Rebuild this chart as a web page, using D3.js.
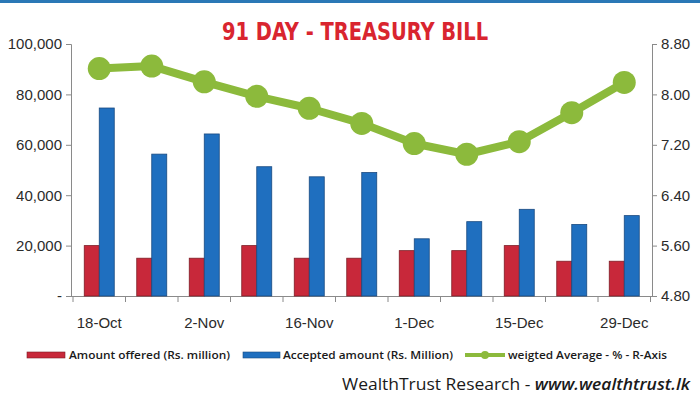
<!DOCTYPE html>
<html>
<head>
<meta charset="utf-8">
<script src="https://cdn.jsdelivr.net/npm/d3@7"></script>
<style>
    body { margin: 0; background: #fff; }
    svg { display: block; }
</style>
</head>
<body>
<div id="chart"></div>
<script>
const dates = ["18-Oct", "25-Oct", "2-Nov", "9-Nov", "16-Nov", "23-Nov", "1-Dec", "8-Dec", "15-Dec", "22-Dec", "29-Dec"];
const amountOffered = [20000, 15000, 15000, 20000, 15000, 15000, 18000, 18000, 20000, 13800, 13800];
const acceptedAmount = [74600, 56300, 64300, 51300, 47300, 49000, 22700, 29500, 34400, 28400, 31900];
const weightedAverage = [8.41, 8.45, 8.20, 7.97, 7.78, 7.54, 7.22, 7.05, 7.25, 7.71, 8.19];
const leftTicks = [0, 20000, 40000, 60000, 80000, 100000];
const rightTicks = [4.80, 5.60, 6.40, 7.20, 8.00, 8.80];
const shownLabels = ["18-Oct", "2-Nov", "16-Nov", "1-Dec", "15-Dec", "29-Dec"];

const width = 700, height = 400;
const plot = {left: 71, right: 652, top: 44, bottom: 296};
const red = "#c8283a", blue = "#1f6fbf", green = "#8cba3c";

const svg = d3.select("#chart")
    .append("svg")
    .attr("width", width)
    .attr("height", height)
    .style("font-family", "'DejaVu Sans', sans-serif");

svg.append("rect")
    .attr("width", width)
    .attr("height", 3)
    .attr("fill", "#2a78b6");

svg.append("text")
    .attr("x", 355)
    .attr("y", 40)
    .attr("text-anchor", "middle")
    .attr("fill", "#d9252f")
    .style("font-family", "'Liberation Sans Narrow', 'DejaVu Sans Condensed', sans-serif")
    .style("font-weight", "bold")
    .style("font-size", "24px")
    .attr("textLength", 266)
    .attr("lengthAdjust", "spacingAndGlyphs")
    .text("91 DAY - TREASURY BILL");

const x = d3.scaleBand()
    .domain(dates)
    .range([72.5, 650]);

const yLeft = d3.scaleLinear()
    .domain([0, 100000])
    .range([plot.bottom, plot.top]);

const yRight = d3.scaleLinear()
    .domain([4.8, 8.8])
    .range([plot.bottom, plot.top]);

const barWidth = 15;
const center = d => x(d) + x.bandwidth() / 2 + 0.5;

// axes
const leftAxis = svg.append("g")
    .attr("transform", `translate(${plot.left}, 0)`)
    .call(d3.axisLeft(yLeft)
        .tickValues(leftTicks)
        .tickSize(5)
        .tickPadding(4)
        .tickFormat(d => d === 0 ? "-" : d3.format(",")(d)));

const rightAxis = svg.append("g")
    .attr("transform", `translate(${plot.right}, 0)`)
    .call(d3.axisRight(yRight)
        .tickValues(rightTicks)
        .tickSize(5)
        .tickPadding(4)
        .tickFormat(d3.format(".2f")));

const boundary = d3.scaleLinear()
    .domain([0, dates.length])
    .range(x.range());

const bottomAxis = svg.append("g")
    .attr("transform", `translate(0, ${plot.bottom})`)
    .call(d3.axisBottom(boundary)
        .tickValues(d3.range(dates.length + 1))
        .tickSize(6)
        .tickSizeOuter(0)
        .tickFormat(""));

bottomAxis.select(".domain")
    .attr("d", `M${plot.left},0.5H${plot.right}`);

const labelAxis = svg.append("g")
    .attr("transform", `translate(0.5, ${plot.bottom})`)
    .call(d3.axisBottom(x)
        .tickSize(0)
        .tickPadding(21)
        .tickFormat(d => shownLabels.includes(d) ? d : ""));
labelAxis.select(".domain").remove();

[leftAxis, rightAxis, bottomAxis].forEach(g => {
    g.selectAll(".domain, line").attr("stroke", "#8a8a8a");
});
[leftAxis, rightAxis, labelAxis].forEach(g => {
    g.selectAll("text")
        .attr("fill", "#2b2b2b")
        .style("font-size", "15px");
});

// bars
svg.append("g")
    .selectAll("rect")
    .data(dates)
    .join("rect")
    .attr("x", d => center(d) - barWidth)
    .attr("y", (d, i) => yLeft(amountOffered[i]))
    .attr("width", barWidth)
    .attr("height", (d, i) => plot.bottom - yLeft(amountOffered[i]))
    .attr("fill", red)
    .attr("stroke", "#7e1d26")
    .attr("stroke-width", 0.8);

svg.append("g")
    .selectAll("rect")
    .data(dates)
    .join("rect")
    .attr("x", d => center(d))
    .attr("y", (d, i) => yLeft(acceptedAmount[i]))
    .attr("width", barWidth)
    .attr("height", (d, i) => plot.bottom - yLeft(acceptedAmount[i]))
    .attr("fill", blue)
    .attr("stroke", "#1a4a80")
    .attr("stroke-width", 0.8);

// weighted average line
const line = d3.line()
    .x((d, i) => center(dates[i]))
    .y(d => yRight(d));

svg.append("path")
    .datum(weightedAverage)
    .attr("d", line)
    .attr("fill", "none")
    .attr("stroke", green)
    .attr("stroke-width", 8)
    .attr("stroke-linejoin", "round");

svg.append("g")
    .selectAll("circle")
    .data(weightedAverage)
    .join("circle")
    .attr("cx", (d, i) => center(dates[i]))
    .attr("cy", d => yRight(d))
    .attr("r", 11.5)
    .attr("fill", green);

// legend
const legend = svg.append("g")
    .style("font-family", "'Open Sans', sans-serif")
    .style("font-weight", "600")
    .style("font-size", "10.5px")
    .attr("fill", "#1a1a1a");

legend.append("rect").attr("x", 27).attr("y", 352).attr("width", 38).attr("height", 6)
    .attr("fill", red).attr("stroke", "#7e1d26").attr("stroke-width", 0.6);
legend.append("text").attr("x", 69).attr("y", 359)
    .attr("textLength", 161).attr("lengthAdjust", "spacingAndGlyphs")
    .text("Amount offered (Rs. million)");

legend.append("rect").attr("x", 243).attr("y", 352).attr("width", 37).attr("height", 6)
    .attr("fill", blue).attr("stroke", "#1a4a80").attr("stroke-width", 0.6);
legend.append("text").attr("x", 283).attr("y", 359)
    .attr("textLength", 170).attr("lengthAdjust", "spacingAndGlyphs")
    .text("Accepted amount (Rs. Million)");

legend.append("line").attr("x1", 465).attr("x2", 505).attr("y1", 355).attr("y2", 355)
    .attr("stroke", green).attr("stroke-width", 4);
legend.append("circle").attr("cx", 485).attr("cy", 355).attr("r", 4).attr("fill", green);
legend.append("text").attr("x", 508).attr("y", 359)
    .attr("textLength", 159).attr("lengthAdjust", "spacingAndGlyphs")
    .text("weigted Average - % - R-Axis");

// footer
const footer = svg.append("text")
    .attr("x", 690)
    .attr("y", 390)
    .attr("text-anchor", "end")
    .attr("fill", "#1a1a1a")
    .style("font-family", "'Open Sans', sans-serif")
    .style("font-size", "17px")
    .attr("textLength", 348)
    .attr("lengthAdjust", "spacingAndGlyphs");
footer.append("tspan").text("WealthTrust Research - ");
footer.append("tspan")
    .style("font-style", "italic")
    .style("font-weight", "600")
    .text("www.wealthtrust.lk");
</script>
</body>
</html>
